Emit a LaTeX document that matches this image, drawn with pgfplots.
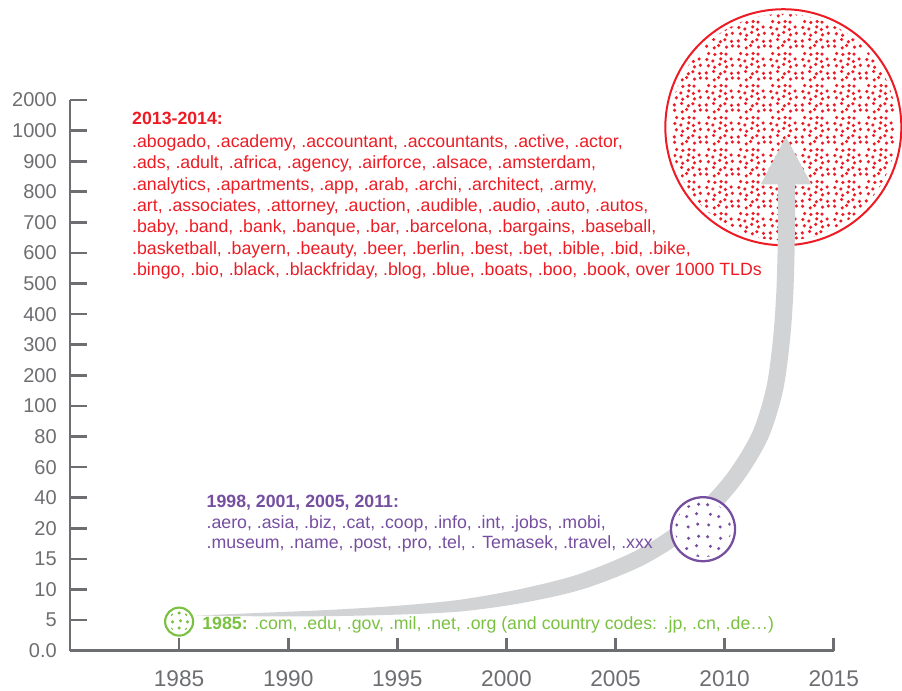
\documentclass[border=0pt]{standalone}
\usepackage{pgfplots}
\pgfplotsset{compat=1.18}
\usepgfplotslibrary{fillbetween}
\usetikzlibrary{patterns.meta}
\usepackage{fontspec}
\setmainfont{Liberation Sans}
\definecolor{axisgray}{RGB}{109,110,113}
\definecolor{arrowgray}{RGB}{209,211,212}
\definecolor{tldred}{RGB}{237,28,36}
\definecolor{tldpurple}{RGB}{118,78,160}
\definecolor{tldgreen}{RGB}{122,193,66}
\newcommand{\dt}[3]{\pgfpathcircle{\pgfpoint{#1pt}{#2pt}}{#3pt}}
\tikzdeclarepattern{name=reddots, type=uncolored,
  bottom left={(0pt,0pt)}, top right={(24pt,24pt)}, tile size={(24pt,24pt)},
  code={
    \dt{2.0}{2.9}{1.35}\dt{7.9}{1.6}{1.35}\dt{11.3}{3.4}{1.35}\dt{17.4}{2.2}{1.35}\dt{21.9}{3.1}{1.35}
    \dt{1.8}{7.0}{1.35}\dt{7.5}{8.1}{1.35}\dt{12.6}{6.3}{1.35}\dt{16.1}{7.9}{1.35}\dt{21.2}{6.6}{1.35}
    \dt{3.3}{12.5}{1.35}\dt{8.2}{11.4}{1.35}\dt{12.1}{13.6}{1.35}\dt{17.3}{11.6}{1.35}\dt{21.8}{12.9}{1.35}
    \dt{2.2}{17.3}{1.35}\dt{6.8}{16.2}{1.35}\dt{12.9}{17.9}{1.35}\dt{16.4}{15.8}{1.35}\dt{20.9}{17.8}{1.35}
    \dt{3.6}{21.9}{1.35}\dt{8.4}{21.2}{1.35}\dt{13.2}{21.9}{1.35}\dt{17.0}{21.5}{1.35}
    \pgfusepath{fill}
  }}
\tikzdeclarepattern{name=purpledots, type=uncolored,
  bottom left={(0pt,0pt)}, top right={(24pt,24pt)}, tile size={(24pt,24pt)},
  code={
    \dt{3.6}{4.6}{1.3}\dt{12.3}{3.1}{1.3}\dt{19.6}{5.2}{1.3}
    \dt{4.9}{12.7}{1.3}\dt{11.2}{11.0}{1.3}\dt{18.7}{13.2}{1.3}
    \dt{2.8}{20.0}{1.3}\dt{12.6}{18.8}{1.3}\dt{20.3}{20.4}{1.3}
    \pgfusepath{fill}
  }}
\tikzdeclarepattern{name=greendots, type=uncolored,
  bottom left={(0pt,0pt)}, top right={(11pt,11pt)}, tile size={(11pt,11pt)},
  code={
    \dt{2.3}{3.0}{1.3}\dt{7.9}{2.0}{1.3}\dt{3.4}{8.4}{1.3}\dt{8.6}{7.6}{1.3}
    \pgfusepath{fill}
  }}
\pgfdeclareplotmark{redball}{%
  \pgfpathcircle{\pgfpointorigin}{88.5pt}\pgfsetfillcolor{white}\pgfusepath{fill}%
  \pgfpathcircle{\pgfpointorigin}{85pt}\pgfsetfillpattern{reddots}{tldred}\pgfusepath{fill}%
  \pgfpathcircle{\pgfpointorigin}{88.5pt}\pgfsetstrokecolor{tldred}\pgfsetlinewidth{1.5pt}\pgfusepath{stroke}}
\pgfdeclareplotmark{purpleball}{%
  \pgfpathcircle{\pgfpointorigin}{24pt}\pgfsetfillcolor{white}\pgfusepath{fill}%
  \pgfpathcircle{\pgfpointorigin}{21pt}\pgfsetfillpattern{purpledots}{tldpurple}\pgfusepath{fill}%
  \pgfpathcircle{\pgfpointorigin}{24pt}\pgfsetstrokecolor{tldpurple}\pgfsetlinewidth{1.7pt}\pgfusepath{stroke}}
\pgfdeclareplotmark{greenball}{%
  \pgfpathcircle{\pgfpointorigin}{10.5pt}\pgfsetfillcolor{white}\pgfusepath{fill}%
  \pgfpathcircle{\pgfpointorigin}{8pt}\pgfsetfillpattern{greendots}{tldgreen}\pgfusepath{fill}%
  \pgfpathcircle{\pgfpointorigin}{10.5pt}\pgfsetstrokecolor{tldgreen}\pgfsetlinewidth{1.6pt}\pgfusepath{stroke}}
\begin{document}
\begin{tikzpicture}
\begin{axis}[
  set layers,
  scale only axis, width=572.8pt, height=413pt,
  xmin=1980, xmax=2015, ymin=0, ymax=18,
  axis lines=left,
  axis line style={-, draw=axisgray, line width=2pt},
  tick align=inside,
  major tick length=12.75pt,
  xtick style={/pgfplots/major tick length=9.75pt},
  major tick style={draw=axisgray, line width=2pt},
  xtick={1985,1990,1995,2000,2005,2010,2015},
  xticklabels={1985,1990,1995,2000,2005,2010,2015},
  ytick={0,1,...,18},
  yticklabels={0.0,5,10,15,20,40,60,80,100,200,300,400,500,600,700,800,900,1000,2000},
  /pgf/number format/assume math mode=true,
  x tick label style={font=\fontsize{17}{20}\selectfont, text=axisgray, inner sep=0pt, anchor=north, yshift=-14.5pt},
  y tick label style={font=\fontsize{15}{18}\selectfont, text=axisgray, inner sep=0pt, anchor=east, xshift=-9.75pt},
  clip=false,
  clip marker paths=true,
]
\coordinate (O) at (axis cs:1980,0);
% 2013-2014 circle
\addplot[only marks, mark=redball] coordinates {(2012.69,17.11)};
% growth arrow: the two edges of the tapering band
\addplot[name path=L, draw=none, smooth] coordinates {
  (1985.793,1.150) (1988.770,1.237) (1991.975,1.335) (1995.175,1.477) (1997.906,1.669)
  (2000.625,2.012) (2003.328,2.503) (2006.011,3.301) (2008.229,4.354) (2010.004,5.683)
  (2011.241,7.100) (2011.902,8.581) (2012.216,10.183) (2012.374,11.801) (2012.443,13.752)
  (2012.443,15.382)};
\addplot[name path=R, draw=none, smooth] coordinates {
  (1985.793,1.150) (1988.773,1.123) (1991.984,1.129) (1995.200,1.183) (1997.969,1.286)
  (2000.750,1.563) (2003.546,2.020) (2006.363,2.824) (2008.728,3.927) (2010.620,5.343)
  (2011.949,6.867) (2012.662,8.458) (2012.991,10.125) (2013.153,11.775) (2013.222,13.745)
  (2013.222,15.382)};
\addplot[arrowgray] fill between[of=L and R, on layer=main];
\addplot[fill=arrowgray, draw=none] coordinates {(2011.654,15.242) (2012.809,16.797) (2013.978,15.242)} -- cycle;
% 1998-2011 circle and 1985 circle
\addplot[only marks, mark=purpleball] coordinates {(2009.01,3.97)};
\addplot[only marks, mark=greenball] coordinates {(1985,0.95)};
% texts
\node[anchor=north west, inner sep=0pt, align=left, text=tldred, font=\fontsize{13.3}{16}\selectfont]
  at (axis cs:1982.837,17.614) {\textbf{2013-2014:}\\[1.3pt]
.abogado, .academy, .accountant, .accountants, .active, .actor,\\
.ads, .adult, .africa, .agency, .airforce, .alsace, .amsterdam,\\
.analytics, .apartments, .app, .arab, .archi, .architect, .army,\\
.art, .associates, .attorney, .auction, .audible, .audio, .auto, .autos,\\
.baby, .band, .bank, .banque, .bar, .barcelona, .bargains, .baseball,\\
.basketball, .bayern, .beauty, .beer, .berlin, .best, .bet, .bible, .bid, .bike,\\
.bingo, .bio, .black, .blackfriday, .blog, .blue, .boats, .boo, .book, over 1000 TLDs};
\node[anchor=north west, inner sep=0pt, align=left, text=tldpurple, font=\fontsize{13.3}{15.4}\selectfont]
  at (axis cs:1986.251,5.088) {\textbf{1998, 2001, 2005, 2011:}\\
.aero, .asia, .biz, .cat, .coop, .info, .int, .jobs, .mobi,\\
.museum, .name, .post, .pro, .tel, . Temasek, .travel, .xxx};
\node[anchor=base west, inner sep=0pt, text=tldgreen, font=\fontsize{13.3}{15}\selectfont]
  at (axis cs:1986.054,0.699) {\textbf{1985:} .com, .edu, .gov, .mil, .net, .org (and country codes: .jp, .cn, .de…)};
\end{axis}
\pgfresetboundingbox
\path[use as bounding box] ([shift={(-52.5pt,-29.5pt)}]O) rectangle ([shift={(624pt,488pt)}]O);
\end{tikzpicture}
\end{document}
